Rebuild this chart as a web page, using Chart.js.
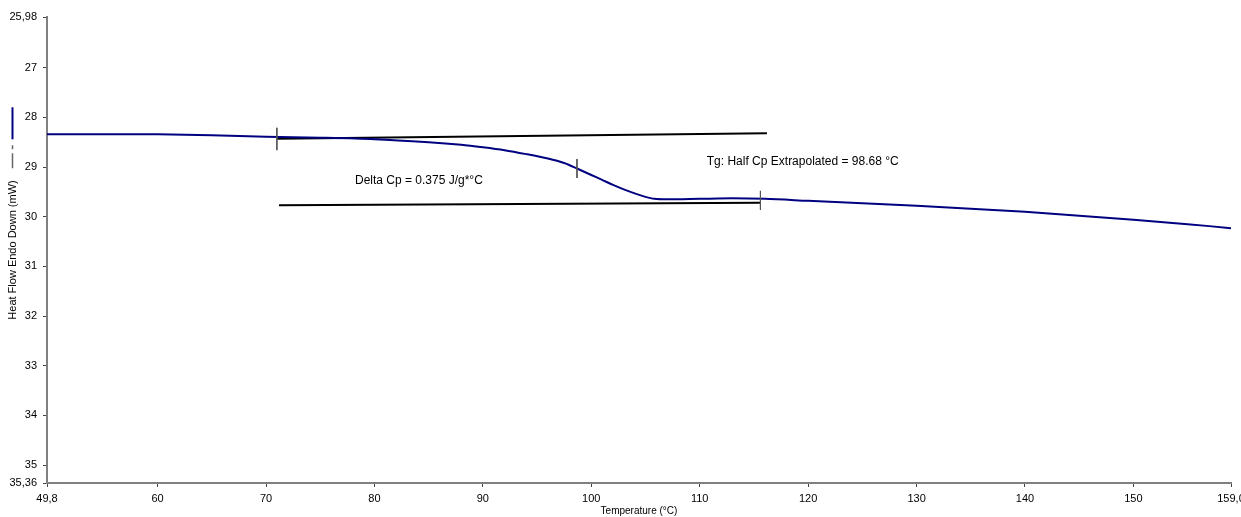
<!DOCTYPE html>
<html>
<head>
    <title></title>
    <script src="https://cdn.jsdelivr.net/npm/chart.js"></script>
    <style>
        html, body { margin: 0; padding: 0; background: #fff; }
        .chart-container { width: 1241px; height: 517px; }
    </style>
</head>
<body>
    <div class="chart-container">
        <canvas id="dscChart"></canvas>
    </div>

    <script>
        // temperature (°C) and heat flow (mW) of the measured curve
        const temps = [49.8, 55, 60, 65, 70, 75, 80, 85, 88, 90, 92, 94, 96, 97.5, 98.68, 100, 101, 102, 103, 104, 105, 105.8, 107, 110, 113, 116, 120, 125, 130, 135, 140, 145, 150, 155, 159];
        const heatFlow = [28.34, 28.34, 28.34, 28.36, 28.39, 28.41, 28.44, 28.50, 28.55, 28.60, 28.66, 28.74, 28.83, 28.92, 29.03, 29.16, 29.26, 29.36, 29.45, 29.53, 29.60, 29.64, 29.65, 29.64, 29.63, 29.64, 29.68, 29.73, 29.78, 29.84, 29.90, 29.98, 30.06, 30.15, 30.23];

        // extrapolated baselines
        const upperX = [71.0, 116.2];
        const upperY = [28.43, 28.32];
        const lowerX = [71.2, 115.6];
        const lowerY = [29.77, 29.72];

        // analysis markers (onset, Tg, end)
        const markerX = [71.0, 98.68, 115.6];
        const markerTop = [28.21, 28.84, 29.48];
        const markerBottom = [28.66, 29.22, 29.86];

        // axis ticks
        const xTicks = [49.8, 60, 70, 80, 90, 100, 110, 120, 130, 140, 150, 159.0];
        const yTicks = [25.98, 27, 28, 29, 30, 31, 32, 33, 34, 35, 35.36];

        const notes = [
            { text: 'Delta Cp = 0.375 J/g*°C', x: 84.1, y: 29.28 },
            { text: 'Tg: Half Cp Extrapolated = 98.68 °C', x: 119.5, y: 28.9 }
        ];

        const FONT = 'Arial, "Liberation Sans", sans-serif';

        function fmt(v, dec) {
            return v.toFixed(dec).replace('.', ',');
        }

        const toPts = (xs, ys) => xs.map((x, i) => ({ x: x, y: ys[i] }));

        const datasets = [
            {
                label: 'Heat Flow',
                data: toPts(temps, heatFlow),
                borderColor: '#000080',
                borderWidth: 2,
                pointRadius: 0,
                showLine: true,
                tension: 0.3,
                order: 1
            },
            {
                label: 'upper',
                data: toPts(upperX, upperY),
                borderColor: '#000000',
                borderWidth: 2,
                pointRadius: 0,
                showLine: true,
                order: 2
            },
            {
                label: 'lower',
                data: toPts(lowerX, lowerY),
                borderColor: '#000000',
                borderWidth: 2,
                pointRadius: 0,
                showLine: true,
                order: 2
            }
        ];
        markerX.forEach((mx, i) => {
            datasets.push({
                label: 'marker' + i,
                data: [{ x: mx, y: markerTop[i] }, { x: mx, y: markerBottom[i] }],
                borderColor: '#555555',
                borderWidth: 1,
                pointRadius: 0,
                showLine: true,
                order: 0
            });
        });

        // annotation texts + the little line sample next to the y title
        const extras = {
            id: 'extras',
            afterDatasetsDraw(chart) {
                const ctx = chart.ctx;
                const xs = chart.scales.x, ys = chart.scales.y;
                ctx.save();
                ctx.font = '12px ' + FONT;
                ctx.fillStyle = '#000';
                ctx.textAlign = 'center';
                ctx.textBaseline = 'middle';
                notes.forEach(n => {
                    ctx.fillText(n.text, xs.getPixelForValue(n.x), ys.getPixelForValue(n.y));
                });

                const area = chart.chartArea;
                const cy = (area.top + area.bottom) / 2;
                ctx.font = '11px ' + FONT;
                const half = ctx.measureText(ys.options.title.text).width / 2;
                const top = cy - half;
                const lx = 12.5;
                ctx.lineWidth = 1.5;
                ctx.strokeStyle = '#666';
                ctx.beginPath();
                ctx.moveTo(lx, top - 27); ctx.lineTo(lx, top - 12);
                ctx.moveTo(lx, top - 35); ctx.lineTo(lx, top - 31);
                ctx.stroke();
                ctx.lineWidth = 2;
                ctx.strokeStyle = '#000080';
                ctx.beginPath();
                ctx.moveTo(lx, top - 73); ctx.lineTo(lx, top - 41);
                ctx.stroke();
                ctx.restore();
            }
        };

        const ctx = document.getElementById('dscChart').getContext('2d');
        const chart = new Chart(ctx, {
            type: 'scatter',
            data: { datasets: datasets },
            options: {
                responsive: true,
                maintainAspectRatio: false,
                animation: false,
                layout: { padding: { top: 17, right: 10, left: 0, bottom: 0 } },
                plugins: {
                    legend: { display: false },
                    tooltip: { enabled: false }
                },
                scales: {
                    x: {
                        type: 'linear',
                        min: 49.8,
                        max: 159.0,
                        afterBuildTicks: s => { s.ticks = xTicks.map(v => ({ value: v })); },
                        afterFit: s => { s.height = 34; s.paddingRight = 0; s.paddingLeft = 0; },
                        grid: { drawOnChartArea: false, tickLength: 4, color: '#444' },
                        border: { color: '#808080', width: 2 },
                        ticks: {
                            autoSkip: false,
                            maxRotation: 0,
                            padding: 5,
                            color: '#000',
                            font: { family: FONT, size: 11 },
                            callback: v => v === 49.8 ? fmt(v, 1) : (v === 159 ? '159,0' : String(v))
                        },
                        title: {
                            display: true,
                            text: 'Temperature (°C)',
                            color: '#000',
                            font: { family: FONT, size: 10 },
                            padding: { top: 0, bottom: 0 }
                        }
                    },
                    y: {
                        type: 'linear',
                        reverse: true,
                        min: 25.98,
                        max: 35.36,
                        afterBuildTicks: s => { s.ticks = yTicks.map(v => ({ value: v })); },
                        afterFit: s => { s.width = 47; },
                        grid: { drawOnChartArea: false, tickLength: 4, color: '#444' },
                        border: { color: '#808080', width: 2 },
                        ticks: {
                            autoSkip: false,
                            padding: 6,
                            color: '#000',
                            font: { family: FONT, size: 11 },
                            callback: v => Number.isInteger(v) ? String(v) : fmt(v, 2)
                        },
                        title: {
                            display: true,
                            text: 'Heat Flow Endo Down (mW)',
                            color: '#000',
                            font: { family: FONT, size: 11 },
                            padding: { top: 6, bottom: 0 }
                        }
                    }
                }
            },
            plugins: [extras]
        });
    </script>
</body>
</html>
